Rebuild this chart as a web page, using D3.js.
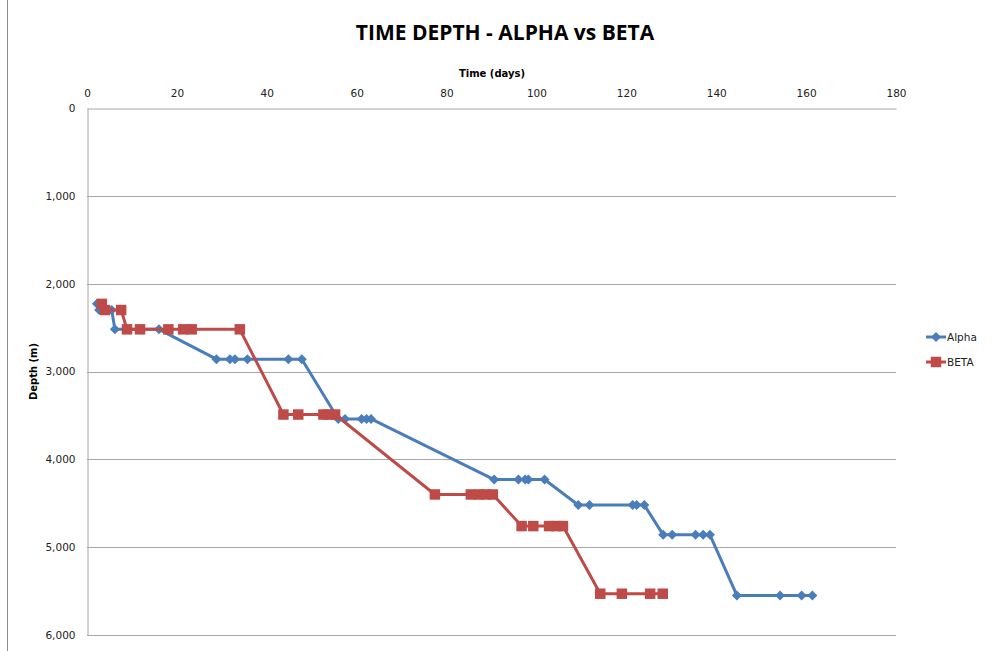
<!DOCTYPE html>
<html>
<head>
<meta charset="utf-8">
<script src="https://cdn.jsdelivr.net/npm/d3@7"></script>
<style>
  html, body { margin: 0; padding: 0; background: #fff; }
  svg { display: block; }
</style>
</head>
<body>
<svg id="chart" width="995" height="651"></svg>
<script>
// Well time vs depth, two wells
const alphaDays  = [2.2, 2.7, 5.5, 6.2, 16.0, 28.8, 31.8, 32.9, 35.7, 44.8, 47.8, 55.9, 57.4, 61.1, 62.2, 63.2, 90.6, 96.0, 97.5, 98.2, 101.8, 109.3, 111.8, 121.4, 122.3, 124.0, 128.2, 130.2, 135.4, 137.1, 138.6, 144.6, 154.2, 159.0, 161.4];
const alphaDepth = [2230, 2300, 2300, 2520, 2520, 2860, 2860, 2860, 2860, 2860, 2860, 3540, 3540, 3540, 3540, 3540, 4230, 4230, 4230, 4230, 4230, 4520, 4520, 4520, 4520, 4520, 4860, 4860, 4860, 4860, 4860, 5550, 5550, 5550, 5550];

const betaDays  = [3.3, 4.0, 7.6, 8.9, 11.8, 18.1, 21.4, 23.3, 34.0, 43.7, 47.0, 52.6, 53.7, 55.2, 77.4, 85.4, 87.2, 88.8, 90.3, 96.7, 99.3, 102.8, 104.4, 105.9, 114.2, 119.0, 125.3, 128.1];
const betaDepth = [2230, 2300, 2300, 2520, 2520, 2520, 2520, 2520, 2520, 3490, 3490, 3490, 3490, 3490, 4400, 4400, 4400, 4400, 4400, 4760, 4760, 4760, 4760, 4760, 5530, 5530, 5530, 5530];

const xTicks = [0, 20, 40, 60, 80, 100, 120, 140, 160, 180];
const yTicks = [0, 1000, 2000, 3000, 4000, 5000, 6000];

const seriesNames = ["Alpha", "BETA"];
const seriesColors = ["#4A7EBB", "#BE4B48"];

const svg = d3.select("#chart");
const plotL = 87, plotT = 108, plotR = 896, plotB = 635;

const x = d3.scaleLinear().domain([0, 180]).range([plotL, plotR]);
const y = d3.scaleLinear().domain([0, 6000]).range([plotT, plotB]);

const font = "'DejaVu Sans', sans-serif";

// outer frame edge
svg.append("line").attr("x1", 7.5).attr("x2", 7.5).attr("y1", 0).attr("y2", 651)
  .attr("stroke", "#8c8c8c").attr("stroke-width", 1);

// title
svg.append("text").attr("x", 505).attr("y", 40).attr("text-anchor", "middle")
  .attr("font-family", "'Open Sans', sans-serif").attr("font-weight", "bold")
  .attr("font-size", 21).attr("fill", "#000").text("TIME DEPTH - ALPHA vs BETA");

// horizontal gridlines
svg.append("g").selectAll("line").data(yTicks.slice(1)).join("line")
  .attr("x1", plotL).attr("x2", plotR)
  .attr("y1", d => Math.round(y(d)) + 0.5).attr("y2", d => Math.round(y(d)) + 0.5)
  .attr("stroke", "#a6a6a6").attr("stroke-width", 1);

// top axis
const xAxis = svg.append("g").attr("transform", `translate(0,${plotT + 0.5})`)
  .call(d3.axisTop(x).tickValues(xTicks).tickSize(0).tickPadding(12));
xAxis.select(".domain").attr("stroke", "#a6a6a6");
xAxis.selectAll("text").attr("font-family", font).attr("font-size", 10.5).attr("fill", "#222");

// left axis
const yAxis = svg.append("g").attr("transform", `translate(${plotL + 0.5},0)`)
  .call(d3.axisLeft(y).tickValues(yTicks).tickSize(0).tickPadding(12).tickFormat(d3.format(",")));
yAxis.select(".domain").attr("stroke", "#a6a6a6");
yAxis.selectAll("text").attr("font-family", font).attr("font-size", 10.5).attr("fill", "#222");

// axis titles
svg.append("text").attr("x", 492).attr("y", 77).attr("text-anchor", "middle")
  .attr("font-family", font).attr("font-weight", "bold").attr("font-size", 10)
  .attr("fill", "#000").text("Time (days)");
svg.append("text").attr("transform", `translate(37,${(plotT + plotB) / 2}) rotate(-90)`)
  .attr("text-anchor", "middle").attr("font-family", font).attr("font-weight", "bold")
  .attr("font-size", 10).attr("fill", "#000").text("Depth (m)");

const line = d3.line().x(d => x(d[0])).y(d => y(d[1]));
const alpha = alphaDays.map((d, i) => [d, alphaDepth[i]]);
const beta = betaDays.map((d, i) => [d, betaDepth[i]]);

// diamond = square turned 45 degrees, square markers a bit larger
const diamond = { path: d3.symbol().type(d3.symbolSquare).size(50)(), rot: 45 };
const square = { path: d3.symbol().type(d3.symbolSquare).size(110)(), rot: 0 };

function drawSeries(data, color, sym) {
  svg.append("path").datum(data).attr("d", line).attr("fill", "none")
    .attr("stroke", color).attr("stroke-width", 3).attr("stroke-linejoin", "round");
  svg.append("g").selectAll("path").data(data).join("path")
    .attr("transform", d => `translate(${x(d[0])},${y(d[1])}) rotate(${sym.rot})`)
    .attr("d", sym.path).attr("fill", color);
}
drawSeries(alpha, seriesColors[0], diamond);
drawSeries(beta, seriesColors[1], square);

// legend
const legend = svg.append("g");
const legY = [337, 362];
const legSyms = [diamond, square];
seriesNames.forEach((name, i) => {
  legend.append("line").attr("x1", 926).attr("x2", 946).attr("y1", legY[i]).attr("y2", legY[i])
    .attr("stroke", seriesColors[i]).attr("stroke-width", 3);
  legend.append("path").attr("transform", `translate(936,${legY[i]}) rotate(${legSyms[i].rot})`)
    .attr("d", legSyms[i].path).attr("fill", seriesColors[i]);
  legend.append("text").attr("x", 947).attr("y", legY[i] + 4)
    .attr("font-family", font).attr("font-size", 10.5).attr("fill", "#222").text(name);
});
</script>
</body>
</html>
